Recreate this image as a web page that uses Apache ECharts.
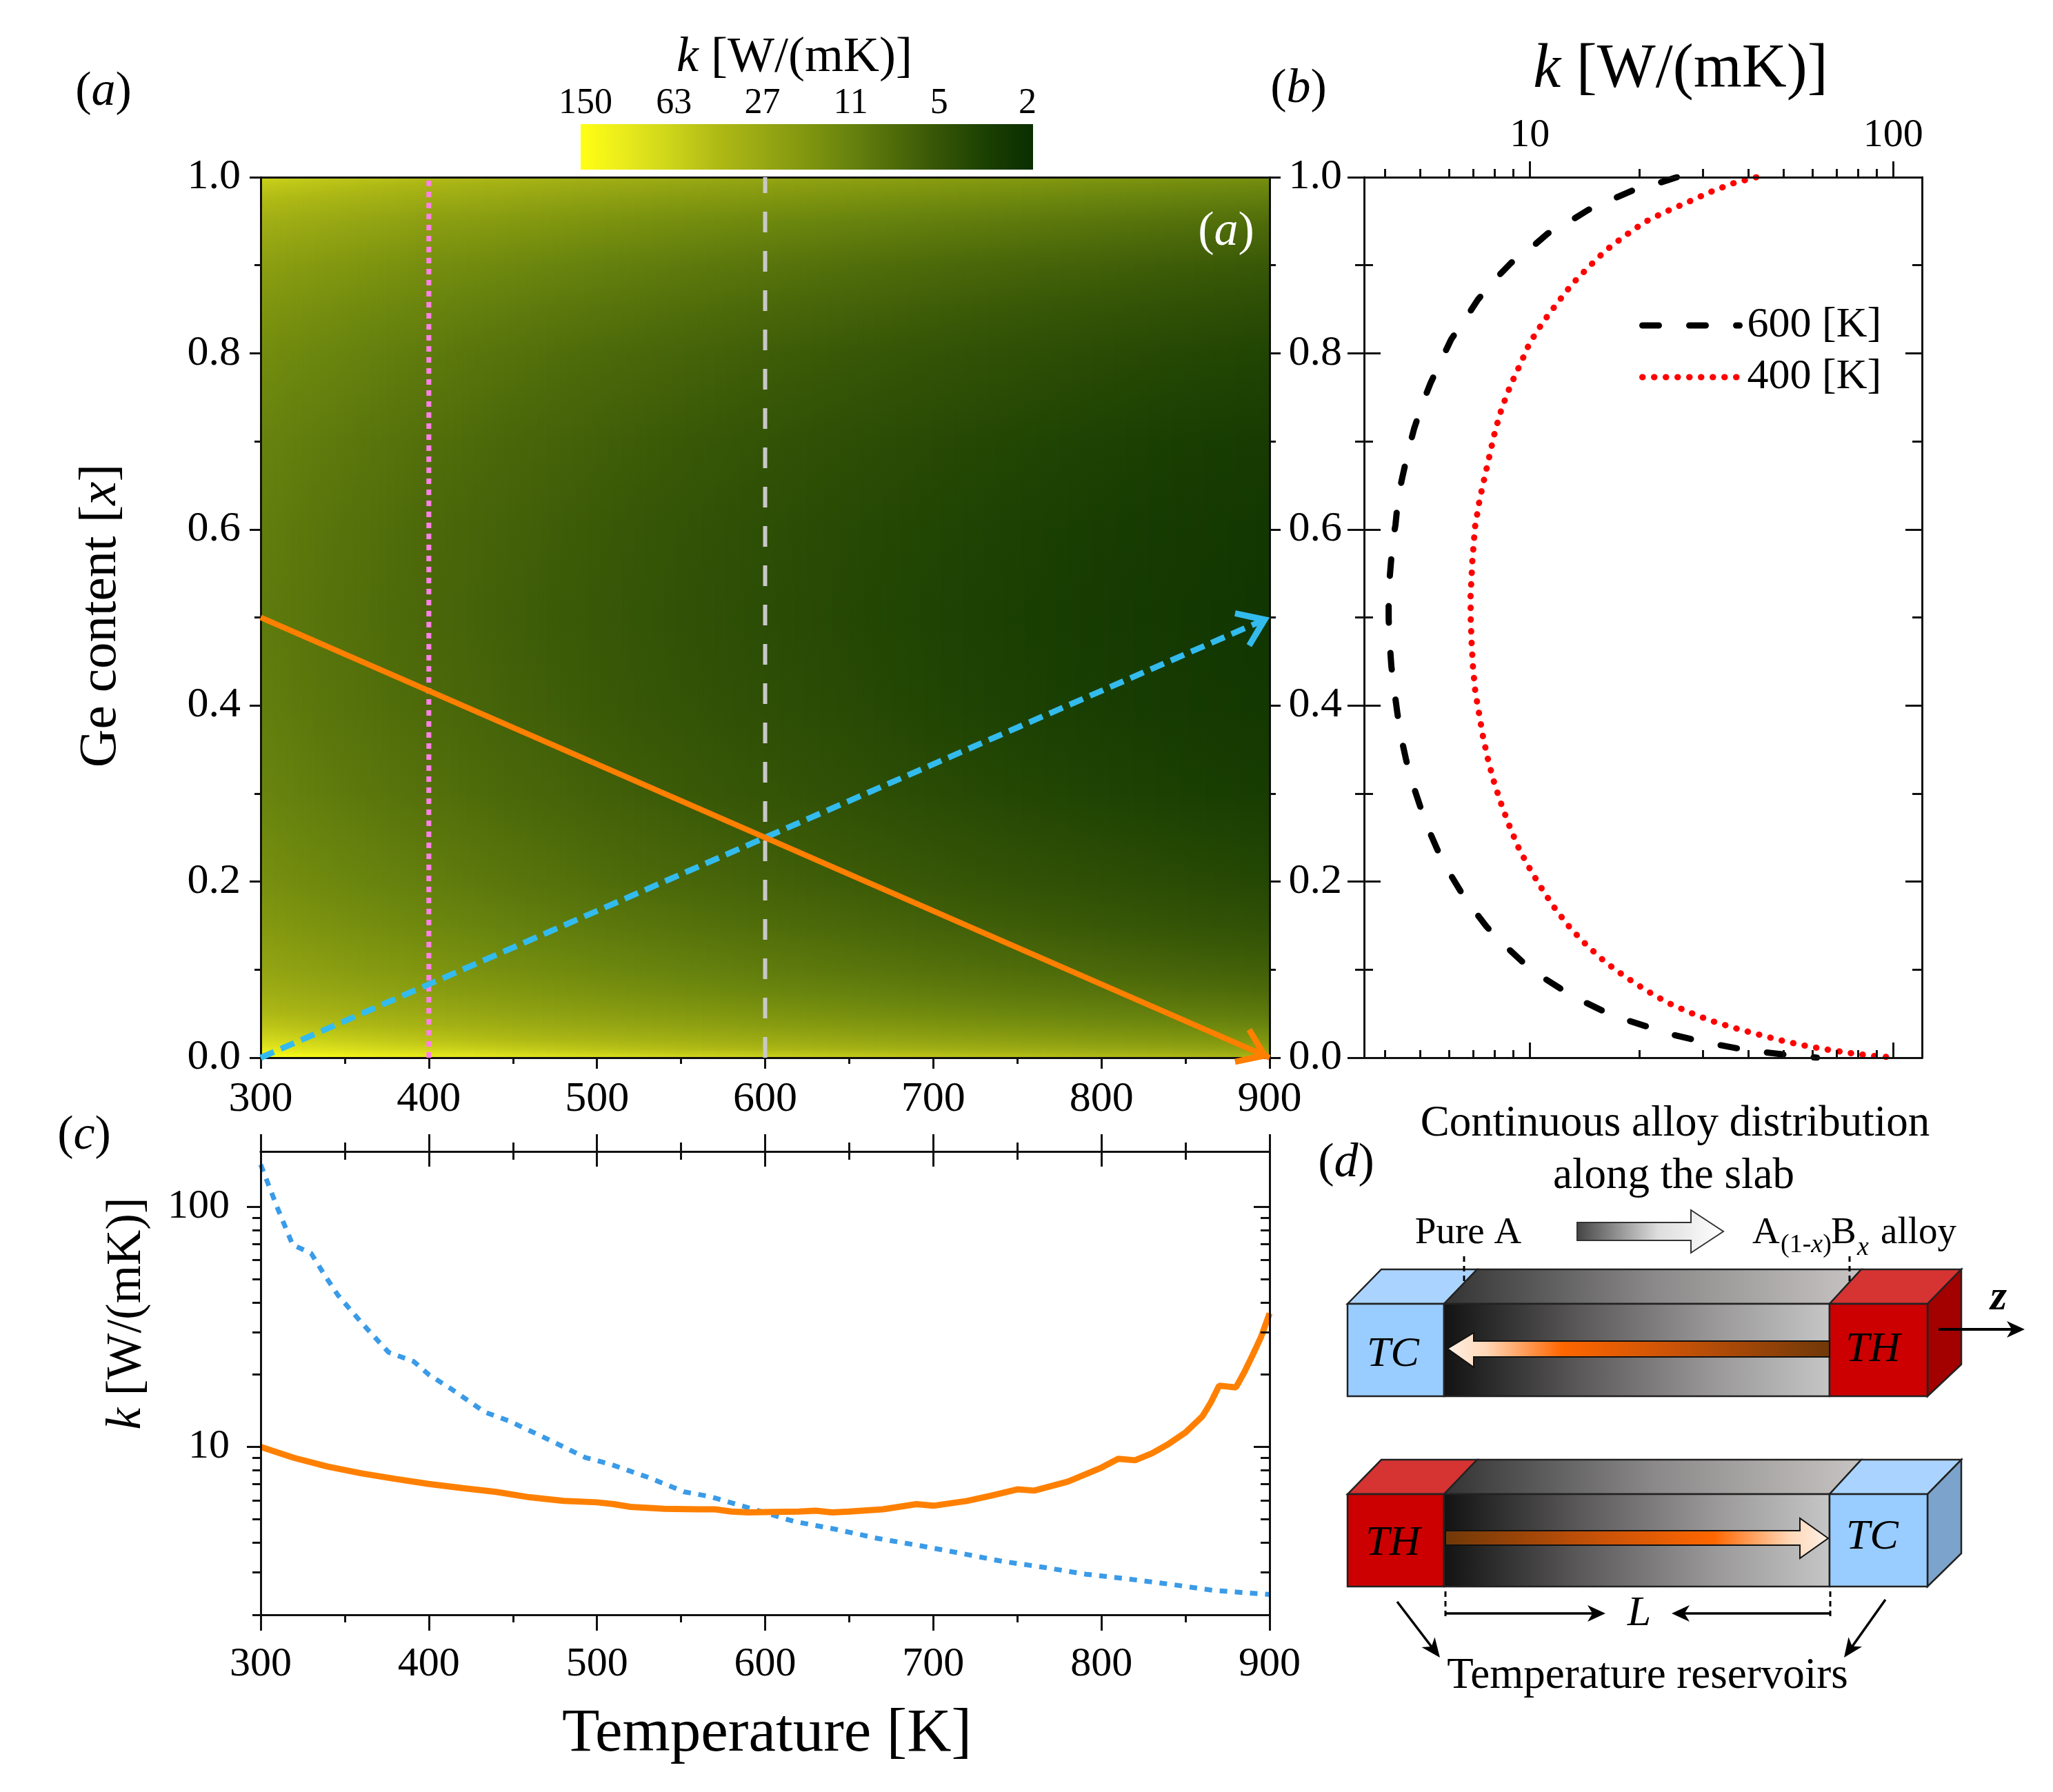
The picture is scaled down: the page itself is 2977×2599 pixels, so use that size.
<!DOCTYPE html>
<html>
<head>
<meta charset="utf-8">
<title>k map</title>
<style>
  html, body { margin: 0; padding: 0; background: #fff; }
  #main { width: 2977px; height: 2599px; }
</style>
<script src="https://cdn.jsdelivr.net/npm/echarts@6/dist/echarts.min.js"></script>
</head>
<body>
<div id="main"></div>
<script>
// panel (a) map, k in W/(mK), rows are x, columns are T
const mapTemps = [300, 320, 340, 360, 380, 400, 425, 450, 475, 500, 550, 600, 650, 700, 750, 800, 850, 900]
const mapContent = [0, 0.01, 0.02, 0.035, 0.05, 0.075, 0.1, 0.15, 0.2, 0.3, 0.4, 0.5, 0.6, 0.7, 0.8, 0.85, 0.9, 0.95, 0.975, 0.99, 1]
const mapK = [
  [150, 140, 129, 120, 112, 102, 97, 90, 84, 78, 69, 62, 56, 51, 46.5, 43, 40, 36],
  [92.9, 85.5, 79, 73.5, 68.4, 64.1, 59.3, 55.1, 51.4, 48.1, 42.5, 38, 34.3, 31.2, 28.5, 26.2, 24.2, 22.5],
  [69.9, 64.4, 59.5, 55.3, 51.5, 48.2, 44.6, 41.5, 38.7, 36.2, 32, 28.6, 25.8, 23.5, 21.5, 19.7, 18.2, 17],
  [51.3, 47.3, 43.7, 40.6, 37.8, 35.4, 32.8, 30.5, 28.4, 26.6, 23.5, 21, 18.9, 17.2, 15.8, 14.5, 13.4, 12.5],
  [40.3, 37.1, 34.3, 31.9, 29.7, 27.8, 25.7, 23.9, 22.3, 20.9, 18.5, 16.5, 14.9, 13.5, 12.4, 11.4, 10.5, 9.8],
  [30.3, 27.9, 25.8, 24, 22.3, 20.9, 19.3, 18, 16.8, 15.7, 13.9, 12.4, 11.2, 10.2, 9.3, 8.6, 7.9, 7.4],
  [24.7, 22.7, 21, 19.5, 18.2, 17, 15.8, 14.6, 13.7, 12.8, 11.3, 10.1, 9.1, 8.3, 7.6, 7, 6.4, 6],
  [18.6, 17.1, 15.8, 14.7, 13.7, 12.8, 11.9, 11, 10.3, 9.6, 8.5, 7.6, 6.9, 6.2, 5.7, 5.2, 4.8, 4.5],
  [15.2, 14, 12.9, 12, 11.2, 10.5, 9.7, 9, 8.4, 7.8, 6.9, 6.2, 5.6, 5.1, 4.65, 4.3, 3.96, 3.68],
  [11.9, 10.9, 10.1, 9.4, 8.7, 8.2, 7.6, 7, 6.6, 6.1, 5.4, 4.85, 4.4, 4, 3.64, 3.35, 3.1, 2.88],
  [10.5, 9.7, 8.9, 8.3, 7.7, 7.25, 6.7, 6.2, 5.8, 5.4, 4.8, 4.3, 3.9, 3.5, 3.2, 2.97, 2.74, 2.55],
  [10, 9.2, 8.5, 7.9, 7.4, 6.9, 6.4, 5.9, 5.5, 5.2, 4.6, 4.09, 3.7, 3.35, 3.07, 2.82, 2.6, 2.43],
  [10.4, 9.6, 8.8, 8.2, 7.65, 7.1, 6.6, 6.2, 5.75, 5.4, 4.75, 4.25, 3.83, 3.5, 3.2, 2.93, 2.7, 2.52],
  [11.5, 10.6, 9.8, 9.1, 8.5, 7.95, 7.4, 6.8, 6.4, 6, 5.3, 4.72, 4.26, 3.87, 3.54, 3.26, 3, 2.8],
  [14.2, 13, 12.1, 11.2, 10.4, 9.8, 9, 8.4, 7.8, 7.3, 6.5, 5.8, 5.2, 4.76, 4.35, 4, 3.7, 3.44],
  [17, 15.6, 14.5, 13.4, 12.5, 11.7, 10.8, 10.1, 9.4, 8.8, 7.8, 6.95, 6.3, 5.7, 5.2, 4.8, 4.43, 4.12],
  [21.5, 19.8, 18.3, 17, 15.8, 14.6, 13.7, 12.8, 11.9, 11.1, 9.8, 8.8, 7.9, 7.2, 6.6, 6.1, 5.6, 5.2],
  [31.5, 29, 26.8, 24.9, 23.2, 21, 20.1, 18.7, 17.4, 16.3, 14.4, 12.9, 11.6, 10.6, 9.7, 8.9, 8.2, 7.6],
  [42.3, 38.9, 36, 33.4, 31.1, 29, 27, 25.1, 23.4, 21.9, 19.4, 17.3, 15.6, 14.2, 13, 11.9, 11, 10.3],
  [52.6, 48.4, 44.7, 41.6, 38.7, 36, 33.5, 31.2, 29.1, 27.2, 24.1, 21.5, 19.4, 17.6, 16.1, 14.8, 13.7, 12.7],
  [62, 57.2, 52.8, 49.1, 45.7, 42, 39.6, 36.8, 34.3, 32.1, 28.4, 25.4, 22.9, 20.8, 19.1, 17.5, 16.2, 15.1]
]
const colorRamp = ['#ffff14', '#e8ea1c', '#cdd41a', '#b0ba15', '#98a814', '#80960f', '#66820e', '#4d6a0a', '#335306', '#1a3f02', '#0a2e00']
const colorbarTicks = [150, 63, 27, 11, 5, 2]

// guide lines on panel (a)
const guideT = [300, 900]
const orangeGuideX = [0.5, 0]
const blueGuideX = [0, 0.5]
const verticalGuideX = [0, 1]

// panel (b)
const x600 = [1, 0.993, 0.985, 0.975, 0.963, 0.95, 0.936, 0.92, 0.903, 0.885, 0.861, 0.84, 0.816, 0.793, 0.766, 0.744, 0.715, 0.692, 0.661, 0.638, 0.605, 0.588, 0.552, 0.531, 0.499, 0.476, 0.445, 0.423, 0.392, 0.369, 0.338, 0.317, 0.287, 0.266, 0.237, 0.217, 0.19, 0.172, 0.149, 0.133, 0.11, 0.095, 0.078, 0.066, 0.052, 0.044, 0.034, 0.027, 0.02, 0.015, 0.0094, 0.0065, 0.0029, 0.0008, 0]
const k600 = [25.4, 22.5, 19.2, 16.9, 14.5, 12.9, 11.2, 10.1, 8.9, 8.07, 7.2, 6.67, 6.08, 5.72, 5.33, 5.08, 4.81, 4.65, 4.47, 4.35, 4.27, 4.2, 4.13, 4.09, 4.09, 4.11, 4.16, 4.22, 4.32, 4.4, 4.57, 4.71, 4.98, 5.18, 5.56, 5.87, 6.43, 6.89, 7.6, 8.26, 9.48, 10.5, 12.2, 13.7, 16.1, 18.1, 21.5, 24.2, 28.6, 32.7, 38.6, 43.5, 52, 59.4, 61.7]
const x400 = [1, 0.993, 0.983, 0.971, 0.961, 0.949, 0.933, 0.917, 0.899, 0.879, 0.857, 0.836, 0.812, 0.787, 0.764, 0.738, 0.712, 0.686, 0.66, 0.634, 0.603, 0.564, 0.523, 0.497, 0.47, 0.443, 0.416, 0.39, 0.364, 0.337, 0.311, 0.286, 0.261, 0.236, 0.213, 0.189, 0.168, 0.146, 0.127, 0.108, 0.092, 0.077, 0.063, 0.052, 0.042, 0.034, 0.027, 0.02, 0.014, 0.0094, 0.0053, 0.002, 0]
const k400 = [42, 36.2, 31.3, 27, 23.7, 20.7, 18.2, 16.2, 14.6, 13.1, 11.9, 10.9, 10, 9.4, 8.86, 8.38, 8.03, 7.77, 7.52, 7.28, 7.07, 6.95, 6.87, 6.88, 6.92, 6.98, 7.08, 7.26, 7.44, 7.69, 8, 8.38, 8.83, 9.37, 10.05, 10.9, 11.8, 13, 14.4, 16.2, 18.3, 20.8, 23.8, 27.3, 31.5, 36.4, 42, 48.7, 56.6, 65.4, 76, 88, 102.6]

// panel (c)
const orangeT = [300, 320, 340, 360, 380, 400, 420, 440, 460, 480, 500, 510, 520, 540, 560, 570, 580, 590, 600, 620, 630, 640, 650, 670, 690, 700, 720, 735, 750, 760, 780, 800, 810, 820, 830, 840, 850, 860, 865, 870, 880, 885, 890, 895, 900]
const orangeK = [10, 9, 8.28, 7.76, 7.36, 7.01, 6.74, 6.5, 6.17, 5.96, 5.88, 5.78, 5.63, 5.53, 5.5, 5.5, 5.38, 5.34, 5.36, 5.38, 5.43, 5.34, 5.38, 5.5, 5.78, 5.69, 5.96, 6.28, 6.66, 6.58, 7.17, 8.2, 8.93, 8.8, 9.4, 10.3, 11.5, 13.4, 15.3, 18, 17.7, 20.5, 24.2, 28.8, 36]
const blueT = [300, 310, 319, 330, 338, 346, 361, 376, 391, 400, 413, 433, 448, 468, 493, 508, 530, 552, 567, 592, 617, 642, 667, 692, 717, 741, 766, 791, 816, 841, 866, 900]
const blueK = [150, 98.8, 69.5, 64, 52, 42.8, 32.3, 24.8, 22.7, 20, 17.5, 14, 12.8, 11, 9.04, 8.47, 7.49, 6.5, 6.22, 5.53, 4.9, 4.54, 4.16, 3.88, 3.6, 3.34, 3.15, 2.95, 2.82, 2.68, 2.53, 2.43]

// log tick positions
const logMajorB = [10, 100]
const logMinorB = [4, 5, 6, 7, 8, 9, 20, 30, 40, 50, 60, 70, 80, 90]
const logMajorC = [10, 100]
const logMinorC = [2, 3, 4, 5, 6, 7, 8, 9, 20, 30, 40, 50, 60, 70, 80, 90]

const serif = '"Liberation Serif"'
const ink = '#111'
const kTitle = '{i|k} [W/(mK)]'

function linAxis(grid, position, min, max, interval, tick, minor, extra) {
  return Object.assign({
    type: 'value', gridIndex: grid, position, min, max, interval, z: 3,
    axisLine: { show: true, onZero: false, lineStyle: { color: ink, width: 3 } },
    axisTick: { show: tick > 0, length: tick, lineStyle: { color: ink, width: 3 } },
    minorTick: { show: minor > 0, splitNumber: 2, length: minor, lineStyle: { color: ink, width: 3 } },
    axisLabel: { show: false },
    splitLine: { show: false }
  }, extra)
}

function logAxis(grid, position, min, max, values, tick, inside, labelMargin, size) {
  return {
    type: 'log', logBase: 10, gridIndex: grid, position, min, max, z: 3,
    axisLine: { show: true, onZero: false, lineStyle: { color: ink, width: 3 } },
    axisTick: { show: true, customValues: values, length: tick, inside, lineStyle: { color: ink, width: 3 } },
    axisLabel: labelMargin
      ? { show: true, customValues: values, margin: labelMargin, color: '#000', fontFamily: serif, fontSize: size }
      : { show: false },
    splitLine: { show: false }
  }
}

function numLabels(size, margin, fmt) {
  return { axisLabel: { show: true, margin, color: '#000', fontFamily: serif, fontSize: size, formatter: fmt } }
}
const oneDecimal = v => v.toFixed(1)

const xAxes = [
  linAxis(0, 'bottom', 300, 900, 100, 16, 9, numLabels(62, 30)),                       // 0
  linAxis(0, 'top', 300, 900, 100, 0, 0),                                               // 1
  logAxis(1, 'top', 3.5, 120, logMajorB, 23, false, 31, 58),                            // 2
  logAxis(1, 'top', 3.5, 120, logMinorB, 12, false),                                    // 3
  logAxis(1, 'bottom', 3.5, 120, logMajorB, 22, true),                                  // 4
  logAxis(1, 'bottom', 3.5, 120, logMinorB, 11, true),                                  // 5
  linAxis(2, 'bottom', 300, 900, 100, 23, 11, numLabels(60, 42)),                       // 6
  linAxis(2, 'top', 300, 900, 100, 25, 13),                                             // 7
  linAxis(2, 'top', 300, 900, 100, 22, 12, { axisTick: { show: true, inside: true, length: 22, lineStyle: { color: ink, width: 3 } } }) // 8
]

const yAxes = [
  linAxis(0, 'left', 0, 1, 0.2, 16, 9, numLabels(62, 29, oneDecimal)),                  // 0
  linAxis(0, 'right', 0, 1, 0.2, 16, 9),                                                // 1
  linAxis(1, 'left', 0, 1, 0.2, 24, 13, numLabels(62, 32, oneDecimal)),                 // 2
  linAxis(1, 'left', 0, 1, 0.2, 24, 13, { axisTick: { show: true, inside: true, length: 24, lineStyle: { color: ink, width: 3 } } }), // 3
  linAxis(1, 'right', 0, 1, 0.2, 24, 14, { axisTick: { show: true, inside: true, length: 24, lineStyle: { color: ink, width: 3 } } }), // 4
  logAxis(2, 'left', 2, 170, logMajorC, 20, false, 45, 60),                             // 5
  logAxis(2, 'left', 2, 170, logMinorC, 12, false),                                     // 6
  logAxis(2, 'right', 2, 170, logMajorC, 23, true),                                     // 7
  logAxis(2, 'right', 2, 170, logMinorC, 13, true)                                      // 8
]

// colour of a k value on the log colour scale
function logColor(logK) {
  const lo = Math.log10(2), hi = Math.log10(150)
  return echarts.color.lerp((hi - logK) / (hi - lo), colorRamp)
}

// one group for each pair of neighbouring columns, shaded between the two
function renderMapSpan(params, api) {
  const i = params.dataIndex
  const a = api.coord([mapTemps[i], 1])
  const b = api.coord([mapTemps[i + 1], 0])
  const n = Math.max(1, Math.round((b[0] - a[0]) / 6))
  const w = (b[0] - a[0]) / n
  const children = []
  for (let s = 0; s < n; s++) {
    const f = (s + 0.5) / n
    const stops = mapContent.map((x, r) => ({
      offset: 1 - x,
      color: logColor(Math.log10(mapK[r][i]) * (1 - f) + Math.log10(mapK[r][i + 1]) * f)
    })).reverse()
    const left = Math.floor(a[0] + s * w)
    const right = Math.min(Math.ceil(a[0] + (s + 1) * w) + 1, Math.ceil(api.coord([900, 0])[0]))
    children.push({
      type: 'rect',
      shape: { x: left, y: a[1], width: right - left, height: b[1] - a[1] },
      style: { fill: new echarts.graphic.LinearGradient(0, 0, 0, 1, stops) }
    })
  }
  return { type: 'group', children }
}

// open arrow head with its tip at the centre of the symbol box
const chevron = 'path://M0,0 L-41,-29 L-46,-22 L-16,0 L-46,22 L-41,29 Z M46,46 L46,46 Z M-46,-46 L-46,-46 Z'

function guideLine(name, xs, ys, color, width, dash, arrowRotate, cap) {
  const data = xs.map((x, i) => [x, ys[i]])
  const s = {
    name, type: 'line', xAxisIndex: 0, yAxisIndex: 0, clip: false, z: 4, silent: true,
    symbol: 'none',
    lineStyle: { color, width, type: dash, cap: cap || 'butt' },
    itemStyle: { color },
    data
  }
  if (arrowRotate !== undefined) {
    s.symbol = 'circle'
    s.data = [
      { value: data[0], symbol: 'none' },
      { value: data[1], symbol: chevron, symbolSize: 92, symbolRotate: arrowRotate }
    ]
  }
  return s
}

const series = [
  {
    type: 'custom', name: 'map', xAxisIndex: 0, yAxisIndex: 0, coordinateSystem: 'cartesian2d', z: 1, silent: true,
    encode: { x: 0 }, data: mapTemps.slice(0, -1).map(t => [t]), renderItem: renderMapSpan
  },
  guideLine('400 K guide', [400, 400], verticalGuideX, '#ff80e8', 7, [8, 8]),
  guideLine('600 K guide', [600, 600], verticalGuideX, '#c8c8c8', 6, [30, 27]),
  guideLine('up', guideT, blueGuideX, '#33bbee', 8.5, [21, 11], 23.6),
  guideLine('down', guideT, orangeGuideX, '#ff7f00', 8, 'solid', -23.6),
  {
    name: '600 [K]', type: 'line', xAxisIndex: 2, yAxisIndex: 2, symbol: 'none', z: 2,
    lineStyle: { color: '#000', width: 9, type: [24, 44], cap: 'round' }, itemStyle: { color: '#000' },
    data: k600.map((k, i) => [k, x600[i]])
  },
  {
    name: '400 [K]', type: 'line', xAxisIndex: 2, yAxisIndex: 2, symbol: 'none', z: 2,
    lineStyle: { color: '#ff0000', width: 9, type: [0.5, 16.5], cap: 'round' }, itemStyle: { color: '#ff0000' },
    data: k400.map((k, i) => [k, x400[i]])
  },
  {
    name: 'blue k', type: 'line', xAxisIndex: 6, yAxisIndex: 5, symbol: 'none', z: 2,
    lineStyle: { color: '#3a9be8', width: 7, type: [11, 11] },
    data: blueK.map((k, i) => [blueT[i], k])
  },
  {
    name: 'orange k', type: 'line', xAxisIndex: 6, yAxisIndex: 5, symbol: 'none', z: 2,
    lineStyle: { color: '#ff8000', width: 9 },
    data: orangeK.map((k, i) => [orangeT[i], k])
  }
]

// text and sketch helpers
function txt(text, x, y, size, opts) {
  opts = opts || {}
  const style = {
    text, fontFamily: serif, fontSize: size, fill: opts.fill || '#000',
    align: opts.align || 'center', verticalAlign: 'middle', fontStyle: opts.italic ? 'italic' : 'normal',
    fontWeight: opts.bold ? 'bold' : 'normal'
  }
  if (text.indexOf('{i|') >= 0) {
    style.rich = { i: { fontFamily: serif, fontSize: size, fontStyle: 'italic', fontWeight: style.fontWeight, fill: opts.fill || '#000' } }
  }
  return { type: 'text', x, y, rotation: opts.rotation || 0, z: 20, style }
}
function poly(points, fill, stroke, w) {
  return { type: 'polygon', z: 10, shape: { points }, style: { fill, stroke: stroke || '#222', lineWidth: w || 2.5 } }
}
function seg(x1, y1, x2, y2, w, dash) {
  return { type: 'line', z: 11, shape: { x1, y1, x2, y2 }, style: { stroke: '#000', lineWidth: w || 3, lineDash: dash || null } }
}
function head(x, y, angle, len, wide) {
  // small filled arrow head, tip at x,y
  const c = Math.cos(angle), s = Math.sin(angle)
  const p = (u, v) => [x + u * c - v * s, y + u * s + v * c]
  return { type: 'polygon', z: 11, shape: { points: [p(0, 0), p(-len, -wide), p(-len * 0.72, 0), p(-len, wide)] }, style: { fill: '#000' } }
}
const grad = (x, y, x2, y2, stops) => new echarts.graphic.LinearGradient(x, y, x2, y2, stops.map(c => ({ offset: c[0], color: c[1] })))

const blueFront = '#99ccff', blueTop = '#aad4ff', blueSide = '#7ba3cc'
const redFront = '#cc0000', redTop = '#d63333', redSide = '#a30000'

function slab(y0, yFront, yBottom, ySideBottom, leftFront, leftTop, rightFront, rightTop, rightSide) {
  const slabFront = grad(0, 0, 1, 0, [[0, '#121212'], [0.35, '#5a5858'], [0.7, '#9a9898'], [1, '#c6c6c6']])
  const slabTop = grad(0, 0, 1, 0, [[0, '#333333'], [0.5, '#8a8888'], [1, '#c8c4c4']])
  return [
    poly([[1954, yFront], [2003, y0], [2142, y0], [2094, yFront]], leftTop),
    poly([[2094, yFront], [2142, y0], [2699, y0], [2653, yFront]], slabTop),
    poly([[2653, yFront], [2699, y0], [2844, y0], [2795, yFront]], rightTop),
    poly([[2795, yFront], [2844, y0], [2844, ySideBottom], [2795, yBottom]], rightSide),
    poly([[1954, yFront], [2094, yFront], [2094, yBottom], [1954, yBottom]], leftFront),
    poly([[2094, yFront], [2653, yFront], [2653, yBottom], [2094, yBottom]], slabFront),
    poly([[2653, yFront], [2795, yFront], [2795, yBottom], [2653, yBottom]], rightFront)
  ]
}

const sketch = [
  ...slab(1841, 1891, 2025, 1979, blueFront, blueTop, redFront, redTop, redSide),
  ...slab(2117, 2167, 2301, 2253, redFront, redTop, blueFront, blueTop, blueSide),
  // heat flow arrows
  poly([[2099, 1956], [2137, 1933], [2137, 1945], [2653, 1945], [2653, 1968], [2137, 1968], [2137, 1983]],
    grad(0, 0, 1, 0, [[0, '#fff0e6'], [0.1, '#ffd8b8'], [0.3, '#ff6600'], [0.6, '#c85208'], [1, '#703808']]), '#111', 2),
  poly([[2651, 2231], [2610, 2202], [2610, 2220], [2096, 2220], [2096, 2241], [2610, 2241], [2610, 2260]],
    grad(0, 0, 1, 0, [[0, '#703808'], [0.4, '#c85208'], [0.7, '#ff6600'], [0.9, '#ffd8b8'], [1, '#fff0e6']]), '#111', 2),
  // composition arrow
  poly([[2287, 1773], [2452, 1773], [2452, 1755], [2499, 1786], [2452, 1817], [2452, 1799], [2287, 1799]],
    grad(0, 0, 1, 0, [[0, '#444'], [0.55, '#ddd'], [1, '#fff']]), '#333', 2),
  seg(2123, 1822, 2123, 1864, 3, [8, 6]),
  seg(2682, 1822, 2682, 1864, 3, [8, 6]),
  seg(2811, 1928, 2930, 1928, 4),
  head(2936, 1928, 0, 26, 12),
  // L dimension
  seg(2096, 2308, 2096, 2348, 3, [8, 6]),
  seg(2654, 2308, 2654, 2348, 3, [8, 6]),
  seg(2097, 2340, 2322, 2340, 3.5),
  head(2328, 2340, 0, 26, 12),
  seg(2430, 2340, 2654, 2340, 3.5),
  head(2424, 2340, Math.PI, 26, 12),
  // reservoir pointers
  seg(2026, 2323, 2084, 2399, 3.5),
  head(2088, 2404, Math.atan2(81, 62), 28, 12),
  seg(2734, 2320, 2678, 2399, 3.5),
  head(2674, 2404, Math.atan2(84, -60), 28, 12)
]

const labels = [
  txt('({i|a})', 150, 134, 70),
  txt('({i|b})', 1883, 130, 70),
  txt('({i|c})', 122, 1648, 70),
  txt('({i|d})', 1952, 1688, 70),
  txt('({i|a})', 1778, 337, 70, { fill: '#fff' }),
  txt(kTitle, 1152, 84, 72),
  txt(kTitle, 2437, 102, 90),
  txt('Ge content [{i|x}]', 147, 893, 77, { rotation: Math.PI / 2 }),
  txt(kTitle, 184, 1905, 71, { rotation: Math.PI / 2 }),
  txt('Temperature [K]', 1112, 2516, 89),
  txt('Continuous alloy distribution', 2429, 1630, 63),
  txt('along the slab', 2427, 1706, 63),
  txt('Pure A', 2129, 1789, 55),
  txt('A', 2541, 1789, 55, { align: 'left' }),
  txt('(1-{i|x})', 2582, 1806, 38, { align: 'left' }),
  txt('B', 2655, 1789, 55, { align: 'left' }),
  txt('{i|x}', 2693, 1810, 38, { align: 'left' }),
  txt('alloy', 2727, 1789, 55, { align: 'left' }),
  txt('{i|TC}', 2020, 1965, 62),
  txt('{i|TH}', 2716, 1958, 62),
  txt('{i|TH}', 2020, 2239, 62),
  txt('{i|TC}', 2715, 2230, 62),
  txt('{i|z}', 2898, 1883, 62, { bold: true }),
  txt('{i|L}', 2377, 2341, 62),
  txt('Temperature reservoirs', 2389, 2431, 63)
]

const colorbar = [
  {
    type: 'rect', z: 10, shape: { x: 842, y: 180, width: 656, height: 66 },
    style: { fill: new echarts.graphic.LinearGradient(0, 0, 1, 0, colorRamp.map((c, i) => ({ offset: i / (colorRamp.length - 1), color: c }))) }
  },
  ...colorbarTicks.map((v, i) => txt(String(v), 849 + i * 128.2, 150, 52))
]

const chart = echarts.init(document.getElementById('main'), null, { renderer: 'canvas', devicePixelRatio: 1 })
chart.setOption({
  animation: false,
  backgroundColor: '#fff',
  grid: [
    { left: 378, top: 257, width: 1463, height: 1277 },
    { left: 1978, top: 257, width: 809, height: 1277 },
    { left: 378, top: 1670, width: 1463, height: 672 }
  ],
  legend: {
    data: ['600 [K]', '400 [K]'], orient: 'vertical', left: 2372, top: 436, itemWidth: 141, itemHeight: 10, itemGap: 13,
    lineStyle: { width: 'inherit' }, itemStyle: { opacity: 0 },
    textStyle: { fontFamily: serif, fontSize: 62, color: '#000', padding: [0, 0, 0, 6] }
  },
  xAxis: xAxes,
  yAxis: yAxes,
  series,
  graphic: { elements: [...colorbar, ...sketch, ...labels] }
})
</script>
</body>
</html>
